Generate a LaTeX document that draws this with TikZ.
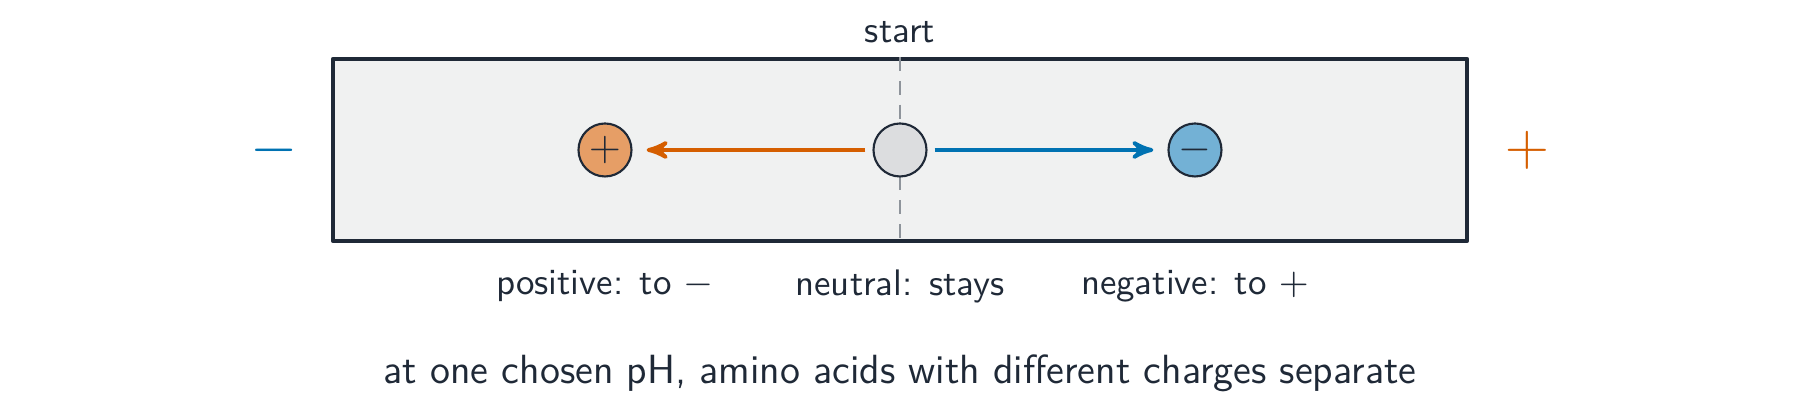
\documentclass[tikz,border=0pt]{standalone}
\usepackage{tikz}
\usepackage{xcolor}
\usetikzlibrary{arrows}
\usetikzlibrary{shapes}

\definecolor{ink}{HTML}{1F2937}
\definecolor{anode}{HTML}{D55E00}
\definecolor{cathode}{HTML}{0072B2}
\definecolor{gelfill}{HTML}{F0F1F1}
\definecolor{neutralfill}{HTML}{DCDDDF}
\definecolor{startline}{HTML}{8E949B}

\begin{document}
\begin{tikzpicture}[font=\sffamily, text=ink, shorten <=0pt, shorten >=0pt,
    ion/.style={circle, draw=ink, line width=0.6pt, minimum size=0.53cm, inner sep=0pt,
        font=\fontsize{12}{12}\selectfont},
    lab/.style={font=\sffamily\fontsize{10.5}{12}\selectfont}]

    \useasboundingbox (0,0) rectangle (18,4.11);

    %===========================
    % Gel strip
    %===========================
    \draw node (gel) at (9,2.61) [fill=gelfill, draw=ink, line width=1.2pt, line join=round,
        minimum width=11.34cm, minimum height=1.82cm]{};
    \draw[startline, line width=0.8pt, dash pattern=on 4pt off 2.8pt] (gel.north) -- (gel.south);
    \node (start) at (9,3.79) [lab]{start};

    % Electrodes
    \node (minus) at (2.74,2.61) [text=cathode, font=\fontsize{16}{16}\selectfont]{$-$};
    \node (plus) at (15.27,2.61) [text=anode, font=\fontsize{16}{16}\selectfont]{$+$};

    %===========================
    % Amino acids
    %===========================
    \draw node (P) at (6.05,2.61) [ion, fill=anode!60]{$+$};
    \draw node (N) at (9,2.61) [ion, fill=neutralfill]{};
    \draw node (M) at (11.95,2.61) [ion, fill=cathode!55]{$-$};

    \draw[-stealth', anode, line width=1.1pt, shorten <=2pt, shorten >=4pt] (N) to (P);
    \draw[-stealth', cathode, line width=1.1pt, shorten <=2pt, shorten >=4pt] (N) to (M);

    % Labels
    \node (Plab) at (6.05,1.25) [lab]{positive: to $-$};
    \node (Nlab) at (9,1.25) [lab]{neutral: stays};
    \node (Mlab) at (11.95,1.25) [lab]{negative: to $+$};

    \node (caption) at (9,0.38) [font=\sffamily\fontsize{11.6}{14}\selectfont]{at one chosen pH, amino acids with different charges separate};
\end{tikzpicture}
\end{document}
